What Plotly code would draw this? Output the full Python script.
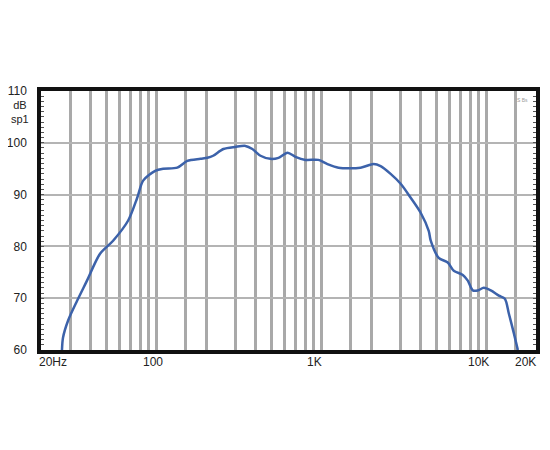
import numpy as np
import plotly.graph_objects as go

# frequency response
freq_hz = [26.8, 27.2, 29.2, 33.1, 38.0, 45.6, 54.7, 67.5, 76.6, 83.2, 98.4, 110, 134,
           154, 185, 204, 221, 255, 301, 347, 382, 428, 491, 550, 624, 697, 801, 961,
           1089, 1271, 1729, 2075, 2287, 2630, 3026, 3480, 4000, 4475, 4603, 5144, 5838,
           6348, 7199, 7721, 8280, 8877, 9650, 10640, 11910, 12950, 13700, 14690, 15530]
spl_db = [60.0, 62.4, 65.7, 69.5, 73.4, 78.6, 81.1, 85.0, 89.4, 92.7, 94.6, 95.0, 95.2,
          96.5, 96.9, 97.1, 97.5, 98.8, 99.2, 99.4, 98.8, 97.5, 96.9, 97.1, 98.1, 97.3,
          96.7, 96.7, 95.9, 95.2, 95.2, 95.9, 95.5, 94.0, 92.1, 89.4, 86.5, 83.0, 81.1,
          77.8, 76.9, 75.3, 74.5, 73.4, 71.5, 71.5, 72.0, 71.5, 70.5, 69.9, 67.0, 63.2,
          60.0]

# vertical grid lines of the chart paper
grid_hz = [20, 30, 40, 50, 60, 70, 80, 90, 100, 150, 200, 300, 400, 500, 600, 700, 800,
           900, 1000, 1500, 2000, 3000, 4000, 5000, 6000, 7000, 8000, 9000, 10000, 15000,
           20000]

x_labels = ['20Hz', '100', '1K', '10K', '20K']
x_label_hz = [20, 100, 1000, 10000, 20000]
y_ticks = [60, 70, 80, 90, 100, 110]

fig = go.Figure()
fig.add_trace(go.Scatter(x=freq_hz, y=spl_db, mode='lines',
                         line=dict(color='#3c62aa', width=2.5, shape='spline', smoothing=0.8),
                         hoverinfo='skip'))

font = dict(family='Liberation Sans, Arial, sans-serif', size=12, color='#222222')

fig.update_xaxes(type='log', range=[np.log10(20), np.log10(20000)],
                 tickvals=grid_hz, showticklabels=False, ticks='',
                 showgrid=True, gridcolor='#a9a9a9', gridwidth=3,
                 showline=True, linecolor='#111111', linewidth=3.5, mirror=True,
                 zeroline=False, automargin=False)
fig.update_yaxes(range=[60, 110], tickvals=y_ticks, ticktext=[str(v) for v in y_ticks],
                 ticks='inside', ticklen=0, tickfont=font, ticklabelstandoff=8,
                 minor=dict(ticks='inside', dtick=1, ticklen=3, tickcolor='#555555',
                            tickwidth=1, showgrid=False),
                 showgrid=True, gridcolor='#b4b4b4', gridwidth=2,
                 showline=True, linecolor='#111111', linewidth=3.5, mirror='allticks',
                 zeroline=False, automargin=False)

# x tick labels, offset like the printed chart
shifts = [-4, -3, -7, -8, -11]
anchors = ['left', 'center', 'center', 'center', 'center']
for f, t, s, a in zip(x_label_hz, x_labels, shifts, anchors):
    fig.add_annotation(x=np.log10(f), xref='x', y=0, yref='paper', yanchor='top',
                       xanchor=a, xshift=s, yshift=-3, text=t, showarrow=False, font=font)

# unit lines under the top tick label
fig.add_annotation(x=0, xref='paper', y=110, yref='y', xanchor='center',
                   yanchor='top', xshift=-21, yshift=-7, text='dB<br>sp1',
                   showarrow=False, align='center', borderpad=0,
                   font=dict(family=font['family'], size=11, color='#222222'))
fig.add_annotation(x=1, xref='paper', y=1, yref='paper', xanchor='right', yanchor='top',
                   xshift=-6, yshift=-4, text='S Bs', showarrow=False,
                   font=dict(family='Liberation Sans', size=5, color='#999999'))

fig.update_layout(width=550, height=450, showlegend=False,
                  margin=dict(l=33, r=22, t=83, b=108),
                  plot_bgcolor='white', paper_bgcolor='white')

fig.write_html('out.html')
